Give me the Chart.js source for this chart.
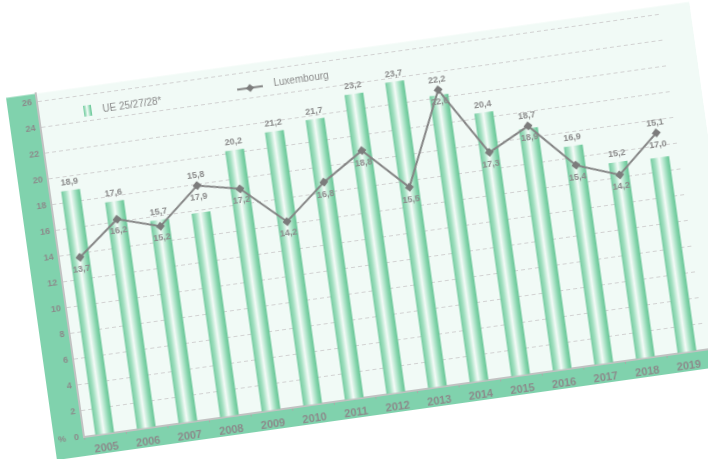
<!DOCTYPE html>
<html>
<head>
<meta charset="utf-8">
<script src="https://cdn.jsdelivr.net/npm/chart.js@4.4.1/dist/chart.umd.min.js"></script>
<style>
  html, body { margin: 0; padding: 0; background: #ffffff; overflow: hidden; }
  body { width: 708px; height: 459px; position: relative; }
  #frame {
    position: absolute;
    left: 44px;
    top: 80px;
    width: 700px;
    height: 380px;
    transform-origin: 40px 357px;
    transform: rotate(-8deg);
  }
  canvas { display: block; }
</style>
</head>
<body>
<div id="frame"><canvas id="chart" width="700" height="380"></canvas></div>
<script>
// Youth unemployment rate, EU vs Luxembourg
const years = ['2005', '2006', '2007', '2008', '2009', '2010', '2011', '2012',
               '2013', '2014', '2015', '2016', '2017', '2018', '2019'];
const ueValues  = [18.9, 17.6, 15.7, 15.8, 20.2, 21.2, 21.7, 23.2, 23.7, 22.2, 20.4, 18.7, 16.9, 15.2, 15.1];
const luxValues = [13.7, 16.2, 15.2, 17.9, 17.2, 14.2, 16.8, 18.8, 15.5, 22.6, 17.3, 18.9, 15.4, 14.2, 17.0];
const yTickValues = [0, 2, 4, 6, 8, 10, 12, 14, 16, 18, 20, 22, 24, 26];
const ueLabel = 'UE 25/27/28*';
const luxLabel = 'Luxembourg';

const FONT = "'Liberation Sans', Arial, Helvetica, sans-serif";
const TEXT = '#8b8b8b';
const STRIP = '#80d2ad';
const PLOT_BG = '#f1faf6';
const BAR_PCT = 0.45;

const fmt = v => v.toFixed(1).replace('.', ',');

function cylinder(c, x0, x1) {
  const g = c.createLinearGradient(x0, 0, x1, 0);
  g.addColorStop(0.00, '#74cba0');
  g.addColorStop(0.22, '#a3e0c1');
  g.addColorStop(0.46, '#f5fbf8');
  g.addColorStop(0.62, '#c4ecd8');
  g.addColorStop(0.85, '#82d3aa');
  g.addColorStop(1.00, '#68c596');
  return g;
}

function barFill(ctx) {
  const chart = ctx.chart;
  const sx = chart.scales && chart.scales.x;
  if (!chart.chartArea || !sx || ctx.dataIndex === undefined) return '#86d4ae';
  const cx = sx.getPixelForValue(ctx.dataIndex);
  const w = sx.width / years.length * BAR_PCT;
  return cylinder(chart.ctx, cx - w / 2, cx + w / 2);
}

// Green frame strips, plot background and the "%" unit
const framePlugin = {
  id: 'frame',
  beforeDraw(chart) {
    const { ctx, chartArea: a } = chart;
    ctx.save();
    ctx.fillStyle = PLOT_BG;
    ctx.fillRect(a.left, a.top, a.right - a.left + 40, a.bottom - a.top);
    ctx.fillStyle = STRIP;
    ctx.fillRect(a.left - 30, a.top, 30, a.bottom - a.top + 19);
    ctx.fillRect(a.left - 30, a.bottom, a.right - a.left + 70, 19);
    ctx.restore();
  },
  afterDraw(chart) {
    const { ctx, chartArea: a } = chart;
    ctx.save();
    ctx.font = 'bold 9px ' + FONT;
    ctx.fillStyle = TEXT;
    ctx.textAlign = 'center';
    ctx.textBaseline = 'middle';
    ctx.fillText('%', a.left - 22, a.bottom);
    ctx.restore();
  }
};

// Legend drawn inside the plot area
const legendPlugin = {
  id: 'innerLegend',
  afterDraw(chart) {
    const { ctx, chartArea: a } = chart;
    const y = a.top + 24;
    ctx.save();
    // bar key: a small cylinder
    const bx = a.left + 49;
    ctx.fillStyle = cylinder(ctx, bx - 4, bx + 4);
    ctx.fillRect(bx - 4, y - 5.5, 8, 11);
    ctx.font = '10px ' + FONT;
    ctx.fillStyle = TEXT;
    ctx.textAlign = 'left';
    ctx.textBaseline = 'middle';
    ctx.fillText(ueLabel, a.left + 64, y + 1);
    // line key
    const lx = a.left + 213;
    ctx.strokeStyle = '#858585';
    ctx.lineWidth = 2;
    ctx.beginPath();
    ctx.moveTo(lx - 13, y);
    ctx.lineTo(lx + 13, y);
    ctx.stroke();
    ctx.fillStyle = '#7c7c7c';
    ctx.beginPath();
    ctx.moveTo(lx, y - 4);
    ctx.lineTo(lx + 4, y);
    ctx.lineTo(lx, y + 4);
    ctx.lineTo(lx - 4, y);
    ctx.closePath();
    ctx.fill();
    ctx.fillStyle = TEXT;
    ctx.fillText(luxLabel, a.left + 237, y - 1);
    ctx.restore();
  }
};

// Value labels for bars and line points
const valuePlugin = {
  id: 'values',
  afterDatasetsDraw(chart) {
    const { ctx } = chart;
    const bars = chart.getDatasetMeta(1).data;
    const pts = chart.getDatasetMeta(0).data;
    ctx.save();
    ctx.font = 'bold 9px ' + FONT;
    ctx.fillStyle = TEXT;
    ctx.textAlign = 'center';
    ctx.textBaseline = 'middle';
    for (let i = 0; i < years.length; i++) {
      const bar = bars[i], pt = pts[i];
      if (!bar || !pt) continue;
      if (luxValues[i] > ueValues[i]) {
        ctx.fillText(fmt(ueValues[i]), pt.x, pt.y - 10);
      } else {
        ctx.fillText(fmt(ueValues[i]), bar.x, bar.y - 8);
      }
      ctx.fillText(fmt(luxValues[i]), pt.x, pt.y + 12);
    }
    ctx.restore();
  }
};

new Chart(document.getElementById('chart'), {
  data: {
    labels: years,
    datasets: [
      {
        type: 'line',
        label: luxLabel,
        data: luxValues,
        order: 0,
        borderColor: '#858585',
        borderWidth: 2,
        tension: 0,
        pointStyle: 'rectRot',
        pointRadius: 4.5,
        pointBackgroundColor: '#7c7c7c',
        pointBorderColor: '#7c7c7c',
        pointBorderWidth: 0
      },
      {
        type: 'bar',
        label: ueLabel,
        data: ueValues,
        order: 1,
        backgroundColor: barFill,
        borderWidth: 0,
        categoryPercentage: 1,
        barPercentage: BAR_PCT
      }
    ]
  },
  options: {
    responsive: false,
    animation: false,
    events: [],
    devicePixelRatio: 1,
    layout: { padding: { left: 10, top: 10, right: 30, bottom: 5 } },
    plugins: {
      legend: { display: false },
      tooltip: { enabled: false },
      title: { display: false }
    },
    scales: {
      x: {
        offset: true,
        grid: {
          display: true,
          drawOnChartArea: false,
          drawTicks: true,
          tickLength: 3,
          color: '#a9a9a9',
          offset: true
        },
        border: { display: true, color: '#c2c2c2', width: 2 },
        ticks: {
          color: TEXT,
          font: { family: FONT, size: 11, weight: 'bold' },
          padding: 4,
          maxRotation: 0,
          autoSkip: false
        },
        afterFit(s) { s.height = 18; }
      },
      y: {
        min: 0,
        max: 26.6,
        afterBuildTicks(s) {
          s.ticks = yTickValues.map(v => ({ value: v }));
        },
        grid: {
          display: true,
          drawTicks: false,
          lineWidth: 1,
          color: c => (c.tick && c.tick.value > 0 ? '#d2d2d2' : 'rgba(0,0,0,0)')
        },
        border: { display: true, color: '#c2c2c2', width: 2, dash: [4, 3] },
        ticks: {
          autoSkip: false,
          color: TEXT,
          font: { family: FONT, size: 9, weight: 'bold' },
          padding: 5,
          callback: v => String(v)
        },
        afterFit(s) { s.width = 30; }
      }
    }
  },
  plugins: [framePlugin, legendPlugin, valuePlugin]
});
</script>
</body>
</html>
